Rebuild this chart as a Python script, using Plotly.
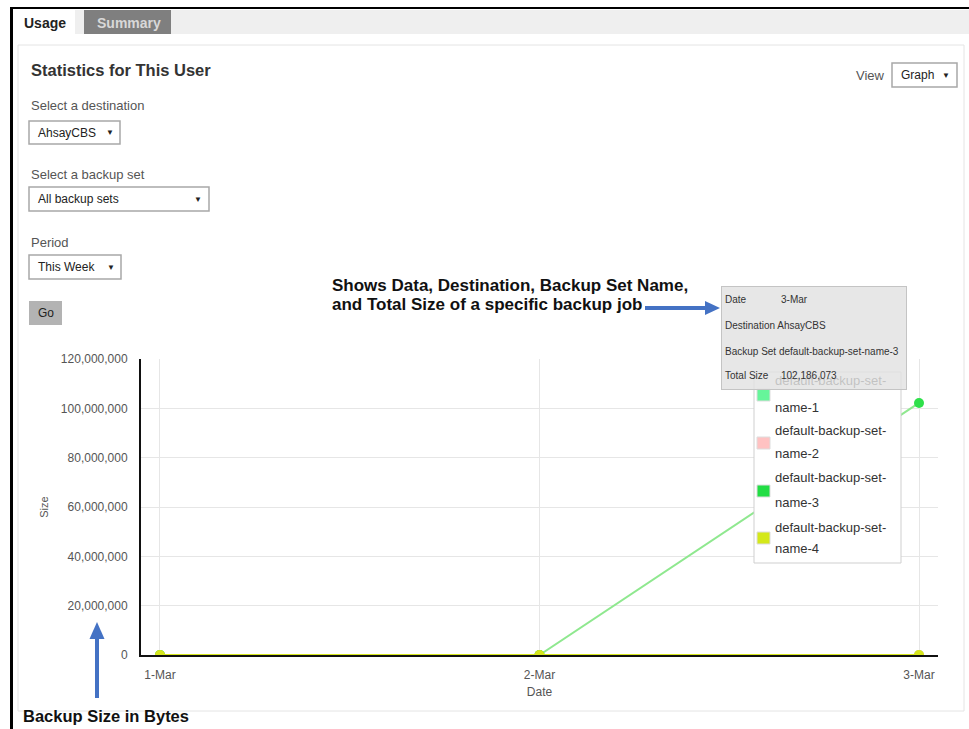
import plotly.graph_objects as go

# ---- data ----
dates = ["1-Mar", "2-Mar", "3-Mar"]
series_names = ["default-backup-set-name-1", "default-backup-set-name-2",
                "default-backup-set-name-3", "default-backup-set-name-4"]
set1 = [0, 0, 0]
set2 = [0, 0, 0]
set3 = [0, 0, 102186073]
set4 = [0, 0, 0]
y_ticks = [0, 20000000, 40000000, 60000000, 80000000, 100000000, 120000000]

line_colors = ["#66f59a", "#ffb0b0", "#8fe88f", "#d6e61c"]
marker_colors = ["#66f59a", "#ffb0b0", "#2ee04a", "#d6e61c"]
swatch_colors = ["#66f59a", "#ffc2c2", "#22dd44", "#d4e81a"]

W, H = 969, 729
L, R, T, B = 141, 31, 359, 74
PW, PH = W - L - R, H - T - B
FONT = "Arial, 'Liberation Sans', sans-serif"


def px(x):
    return (x - L) / PW


def py(y):
    return (H - B - y) / PH


fig = go.Figure()
for name, vals, lc, mc in zip(series_names, [set1, set2, set3, set4], line_colors, marker_colors):
    fig.add_trace(go.Scatter(x=dates, y=vals, name=name, mode="lines+markers",
                             line=dict(color=lc, width=2),
                             marker=dict(color=mc, size=10),
                             showlegend=False))

shapes = []
annotations = []


def rect(x0, y0, x1, y1, fill=None, line=None, lw=1):
    shapes.append(dict(type="rect", xref="paper", yref="paper",
                       x0=px(x0), x1=px(x1), y0=py(y0), y1=py(y1),
                       fillcolor=fill if fill else "rgba(0,0,0,0)",
                       line=dict(color=line if line else "rgba(0,0,0,0)", width=lw if line else 0),
                       layer="above"))


def path(pts, fill):
    d = "M " + " L ".join(f"{px(a):.5f},{py(b):.5f}" for a, b in pts) + " Z"
    shapes.append(dict(type="path", xref="paper", yref="paper", path=d,
                       fillcolor=fill, line=dict(width=0), layer="above"))


def text(x, y, s, size=13, color="#555", bold=False, anchor="left", **kw):
    annotations.append(dict(xref="paper", yref="paper", x=px(x), y=py(y),
                            xanchor=anchor, yanchor="middle", showarrow=False,
                            text=f"<b>{s}</b>" if bold else s,
                            font=dict(family=FONT, size=size, color=color), **kw))


# page frame
rect(75, 10, 969, 34, fill="#efefef")
rect(84, 10, 171, 34, fill="#7f7f7f")
rect(10, 7, 969, 9, fill="#000000")
rect(10, 7, 13, 729, fill="#000000")
rect(18, 45, 964, 711, line="#e4e4e4", lw=1)

text(22, 23, "Usage", size=14, color="#222", bold=True)
text(95, 23, "Summary", size=14, color="#d8d8d8", bold=True)
text(29, 70, "Statistics for This User", size=16.5, color="#333", bold=True)

# controls
text(29, 105, "Select a destination")
rect(29, 121, 120, 144, fill="#ffffff", line="#a8a8a8", lw=1.5)
text(36, 133, "AhsayCBS", size=12, color="#222")
text(110, 133, "▼", size=8, color="#222", anchor="center")

text(29, 174, "Select a backup set")
rect(29, 187, 209, 211, fill="#ffffff", line="#a8a8a8", lw=1.5)
text(36, 199, "All backup sets", size=12, color="#222")
text(198, 199, "▼", size=8, color="#222", anchor="center")

text(29, 242, "Period")
rect(29, 255, 121, 279, fill="#ffffff", line="#a8a8a8", lw=1.5)
text(36, 267, "This Week", size=12, color="#222")
text(111, 267, "▼", size=8, color="#222", anchor="center")

rect(29, 301, 62, 325, fill="#b3b3b3")
text(45.5, 313, "Go", size=12, color="#222", anchor="center")

text(887, 75, "View", anchor="right")
rect(892, 63, 957, 87, fill="#ffffff", line="#a8a8a8", lw=1.5)
text(899, 75, "Graph", size=12, color="#222")
text(946, 75, "▼", size=8, color="#222", anchor="center")

# callouts
text(330, 285, "Shows Data, Destination, Backup Set Name,", size=17, color="#111", bold=True)
text(330, 304, "and Total Size of a specific backup job", size=17, color="#111", bold=True)
rect(645, 306, 706, 310, fill="#4472c4")
path([(705, 301), (720, 308), (705, 315)], "#4472c4")
rect(95, 638, 99, 698, fill="#4472c4")
path([(89.5, 639), (97, 622), (104.5, 639)], "#4472c4")
text(21, 716, "Backup Size in Bytes", size=16.5, color="#111", bold=True)

# custom legend
rect(754, 372, 901, 563, fill="#ffffff", line="#cfcfcf", lw=1)
swatch_y = [395, 443, 491, 538]
first_y = [380, 430, 477, 527]
second_y = [407, 453, 502, 548]
for i, nm in enumerate(series_names):
    rect(757, swatch_y[i] - 6, 770, swatch_y[i] + 6, fill=swatch_colors[i], line="#dddddd", lw=1)
    head, tail = nm.rsplit("name-", 1)
    text(773, first_y[i], head, size=13, color="#333")
    text(773, second_y[i], "name-" + tail, size=13, color="#333")

# tooltip box (drawn over legend)
annotations.append(dict(xref="paper", yref="paper", x=px(721), y=py(286),
                        xanchor="left", yanchor="top", showarrow=False, text=" ",
                        width=184, height=102, borderpad=0,
                        bgcolor="rgba(226,226,226,0.82)", bordercolor="#c4c4c4", borderwidth=1))
tip_size = 10
text(723, 299, "Date", size=tip_size, color="#333")
text(779, 299, dates[2], size=tip_size, color="#333")
text(723, 325, "Destination AhsayCBS", size=tip_size, color="#333")
text(723, 351, "Backup Set " + series_names[2], size=tip_size, color="#333")
text(723, 375, "Total Size", size=tip_size, color="#333")
text(779, 375, f"{set3[2]:,}", size=tip_size, color="#333")

fig.update_layout(
    width=W, height=H,
    margin=dict(l=L, r=R, t=T, b=B, pad=0),
    paper_bgcolor="#ffffff", plot_bgcolor="#ffffff",
    font=dict(family=FONT, size=12, color="#555"),
    shapes=shapes, annotations=annotations,
    xaxis=dict(type="category", range=[-0.05, 2.05], showgrid=True, gridcolor="#e6e6e6",
               showline=True, linecolor="#111", linewidth=2, zeroline=False,
               ticks="outside", ticklen=8, tickcolor="rgba(0,0,0,0)",
               tickfont=dict(size=12, color="#555"),
               title=dict(text="Date", font=dict(size=12, color="#555"), standoff=6)),
    yaxis=dict(range=[0, 120000000], tickvals=y_ticks, tickformat=",d",
               showgrid=True, gridcolor="#e6e6e6", showline=True, linecolor="#111",
               linewidth=2, zeroline=False, ticks="outside", ticklen=9,
               tickcolor="rgba(0,0,0,0)", tickfont=dict(size=12, color="#555"),
               title=dict(text="Size", font=dict(size=11, color="#555"), standoff=10)),
)

fig.write_html("out.html", config={"displayModeBar": False},
               post_script="document.body.style.margin='0';document.body.style.overflow='hidden';")
